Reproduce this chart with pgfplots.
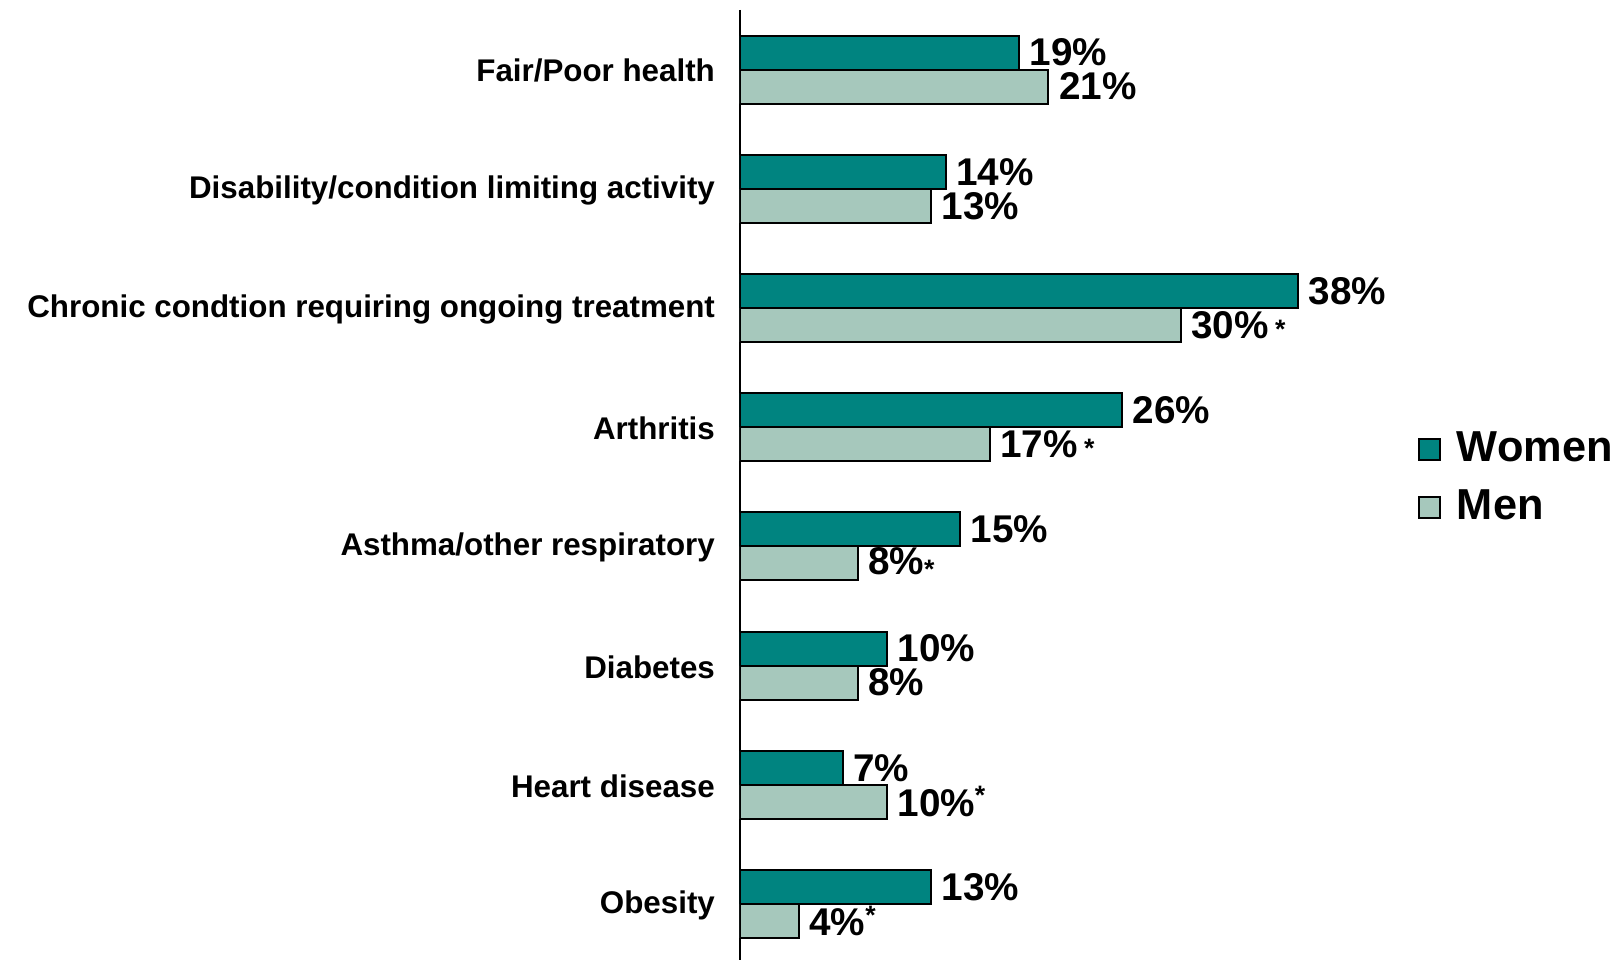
\documentclass[border=0pt]{standalone}
\usepackage{pgfplots}
\pgfplotsset{compat=1.18}
\usepackage{fontspec}
\setmainfont{Liberation Sans}
\definecolor{women}{RGB}{0,132,128}
\definecolor{men}{RGB}{166,200,188}
% small star after a value, with a space / raised like an index
\newcommand\stara{\,{\fontsize{8}{8}\selectfont*}}
\newcommand\starb{\raisebox{0.3em}{\fontsize{8}{8}\selectfont*}}
\newcommand\starc{\raisebox{-0.1em}{\fontsize{8}{8}\selectfont*}}

\begin{document}
\begin{tikzpicture}
\begin{axis}[
  scale only axis,
  width=262.5pt, height=285pt,
  xbar, bar width=10.2pt,
  xmin=0, xmax=59.57,
  ymin=-0.5, ymax=7.47, y dir=reverse,
  axis x line=none, axis y line*=left,
  axis line style={line width=0.7pt},
  ytick={0,...,7},
  yticklabels={Fair/Poor health, Disability/condition limiting activity,
    Chronic condtion requiring ongoing treatment, Arthritis,
    Asthma/other respiratory, Diabetes, Heart disease, Obesity},
  major tick length=0pt,
  yticklabel style={font=\fontsize{9.4}{11}\selectfont\bfseries, xshift=-4pt, yshift=-0.4pt},
  point meta=explicit symbolic,
  nodes near coords,
  nodes near coords style={font=\fontsize{11.6}{13}\selectfont\bfseries,
    anchor=west, inner sep=1pt, xshift=1.9pt},
  legend style={at={(0.763,0.507)}, anchor=west, draw=none, fill=none,
    font=\fontsize{13}{15}\selectfont\bfseries, row sep=5pt,
    nodes={inner sep=1pt}},
  legend cell align=left,
  legend image code/.code={\draw[#1, line width=0.6pt] (0pt,-3.15pt) rectangle (6.3pt,3.15pt);
    \path (10pt,0pt);},
]
\addplot[fill=women, draw=black, line width=0.6pt, bar shift=5.1pt] coordinates {
  (19,0) [19\%]
  (14,1) [14\%]
  (38,2) [38\%]
  (26,3) [26\%]
  (15,4) [15\%]
  (10,5) [10\%]
  (7,6)  [7\%]
  (13,7) [13\%]
};
\addplot[fill=men, draw=black, line width=0.6pt, bar shift=-5.1pt] coordinates {
  (21,0) [21\%]
  (13,1) [13\%]
  (30,2) [30\%\stara]
  (17,3) [17\%\stara]
  (8,4)  [8\%\starc]
  (8,5)  [8\%]
  (10,6) [10\%\starb]
  (4,7)  [4\%\starb]
};
\legend{Women, Men}
\end{axis}
\pgfresetboundingbox
\path ([xshift=-222pt]current axis.south west) rectangle ([yshift=3pt]current axis.north east);
\end{tikzpicture}
\end{document}
